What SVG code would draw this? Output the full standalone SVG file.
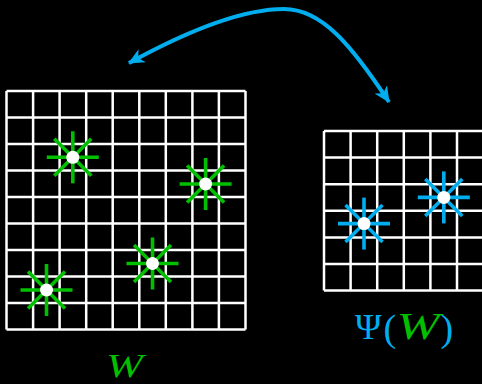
<svg xmlns="http://www.w3.org/2000/svg" width="482" height="384" viewBox="0 0 482 384">
  <style>
    .grid { stroke: #ffffff; stroke-width: 2.5; fill: none; }
    .sg { stroke: #00c000; stroke-width: 3.6; }
    .sb { stroke: #00aeef; stroke-width: 3.6; }
    .dot { fill: #ffffff; }
    .conn { stroke: #00aeef; stroke-width: 4; fill: none; }
    .lbl { font-family: "Liberation Serif", "Times New Roman", serif; }
  </style>
  <defs>
    <g id="arms">
      <line x1="-26" y1="0" x2="26" y2="0"/>
      <line x1="0" y1="-26" x2="0" y2="26"/>
      <line x1="-18.5" y1="-18.5" x2="18.5" y2="18.5"/>
      <line x1="-18.5" y1="18.5" x2="18.5" y2="-18.5"/>
    </g>
    <marker id="head" markerUnits="userSpaceOnUse" markerWidth="20" markerHeight="16" refX="15" refY="8" orient="auto-start-reverse">
      <path d="M0,0.5 L16,8 L0,15.5 L4.5,8 Z" fill="#00aeef"/>
    </marker>
  </defs>
  <rect width="482" height="384" fill="#000000"/>

  <g id="grid-W">
    <path class="grid" d="M6.5,91 H245.5 M6.5,117.5 H245.5 M6.5,144 H245.5 M6.5,170.5 H245.5 M6.5,197 H245.5 M6.5,223.5 H245.5 M6.5,250 H245.5 M6.5,276.5 H245.5 M6.5,303 H245.5 M6.5,329.5 H245.5
      M6.5,91 V329.5 M33.1,91 V329.5 M59.6,91 V329.5 M86.2,91 V329.5 M112.7,91 V329.5 M139.3,91 V329.5 M165.8,91 V329.5 M192.4,91 V329.5 M218.9,91 V329.5 M245.5,91 V329.5"/>
  </g>

  <g id="grid-PsiW">
    <path class="grid" d="M324,131 H490 M324,157.6 H490 M324,184.2 H490 M324,210.8 H490 M324,237.4 H490 M324,264 H490 M324,290.6 H490
      M324,131 V290.6 M350.6,131 V290.6 M377.2,131 V290.6 M403.8,131 V290.6 M430.4,131 V290.6 M457,131 V290.6"/>
  </g>

  <g id="star-W1" transform="translate(72.8,157.3)"><use href="#arms" class="sg"/><circle class="dot" r="6.5"/></g>
  <g id="star-W2" transform="translate(205.6,184)"><use href="#arms" class="sg"/><circle class="dot" r="6.5"/></g>
  <g id="star-W3" transform="translate(152.5,263.5)"><use href="#arms" class="sg"/><circle class="dot" r="6.5"/></g>
  <g id="star-W4" transform="translate(46.5,290)"><use href="#arms" class="sg"/><circle class="dot" r="6.5"/></g>

  <g id="star-P1" transform="translate(364,223.6)"><use href="#arms" class="sb"/><circle class="dot" r="6.5"/></g>
  <g id="star-P2" transform="translate(443.8,197.4)"><use href="#arms" class="sb"/><circle class="dot" r="6.5"/></g>

  <g id="connectors">
    <path class="conn" d="M129,63 C180,35 240,9 284,9 C322,9 352,46 389,102" marker-start="url(#head)" marker-end="url(#head)"/>
  </g>

  <g id="label-W">
    <text class="lbl" x="106" y="377" font-size="33" font-style="italic" fill="#00c000" textLength="37" lengthAdjust="spacingAndGlyphs">W</text>
  </g>
  <g id="label-PsiW">
    <text class="lbl" x="355" y="339" font-size="36" fill="#00aeef">Ψ</text>
    <text class="lbl" x="383.5" y="341" font-size="38" fill="#00aeef">(</text>
    <text class="lbl" x="396.5" y="339" font-size="38" font-style="italic" fill="#00c000" textLength="43" lengthAdjust="spacingAndGlyphs">W</text>
    <text class="lbl" x="440.5" y="341" font-size="38" fill="#00aeef">)</text>
  </g>
</svg>
